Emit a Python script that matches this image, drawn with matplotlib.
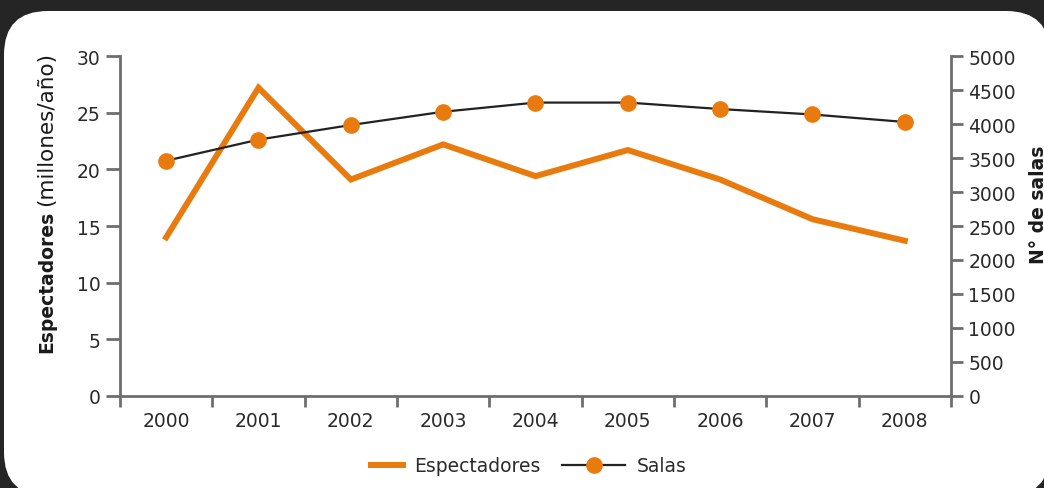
import matplotlib.pyplot as plt
from matplotlib.patches import FancyBboxPatch
from matplotlib.lines import Line2D
from matplotlib.legend_handler import HandlerLine2D

years = ['2000', '2001', '2002', '2003', '2004', '2005', '2006', '2007', '2008']
espectadores = [14.0, 27.2, 19.1, 22.2, 19.4, 21.7, 19.1, 15.6, 13.7]
salas = [3460, 3770, 3985, 4180, 4315, 4315, 4220, 4140, 4030]

orange = '#e97b0e'
grey = '#6e6e6e'
txt = '#2a2a2a'

plt.rcParams['font.family'] = ['DejaVu Sans']
plt.rcParams['font.size'] = 13.5

W, H = 1044, 489
fig = plt.figure(figsize=(W / 100, H / 100), dpi=100)
fig.patch.set_facecolor('#252525')

# white rounded panel behind everything
panel = FancyBboxPatch((4 / W, -8 / H), 1046 / W, 485 / H,
                       boxstyle='round,pad=0,rounding_size=0.042',
                       mutation_aspect=W / H, transform=fig.transFigure,
                       facecolor='white', edgecolor='none', zorder=-5)
fig.patches.append(panel)

ax1 = fig.add_axes([120 / W, 1 - 397 / H, (951 - 120) / W, 340 / H])
ax1.patch.set_visible(False)
ax2 = ax1.twinx()
ax2.patch.set_visible(False)

x = range(len(years))
ax1.plot(x, espectadores, color=orange, lw=4.3, solid_joinstyle='miter', zorder=3)
ax2.plot(x, salas, color='#222222', lw=1.6, marker='o', markersize=11,
         markerfacecolor=orange, markeredgecolor=orange, zorder=2)

ax1.set_xlim(-0.5, len(years) - 0.5)
ax1.set_ylim(0, 30)
ax2.set_ylim(0, 5000)
ax1.set_yticks(range(0, 31, 5))
ax2.set_yticks(range(0, 5001, 500))

ax1.set_xticks(list(x))
ax1.set_xticklabels(years)
ax1.set_xticks([i - 0.5 for i in range(len(years) + 1)], minor=True)
ax1.tick_params(axis='x', which='major', length=0, pad=11, colors=txt)
ax1.tick_params(axis='x', which='minor', length=8, width=2, color=grey)
ax1.tick_params(axis='y', length=10, width=2, color=grey, pad=4, labelcolor=txt)
ax2.tick_params(axis='y', length=8.5, width=2, color=grey, pad=4, labelcolor=txt)

for a in (ax1, ax2):
    a.spines['top'].set_visible(False)
    for s in ('left', 'right', 'bottom'):
        a.spines[s].set_color(grey)
        a.spines[s].set_linewidth(2)
ax1.spines['right'].set_visible(False)
ax2.spines['left'].set_visible(False)
ax2.spines['bottom'].set_visible(False)

# axis titles: bold word followed by regular unit on the same baseline
base_x = 52 / W
t1 = fig.text(base_x, 1 - 353 / H, 'Espectadores', fontweight='bold', rotation=90,
              rotation_mode='anchor', ha='left', va='baseline', color='#1a1a1a')
fig.canvas.draw()
bb = t1.get_window_extent(fig.canvas.get_renderer())
fig.text(base_x, (bb.y1 + 5) / H, '(millones/año)', rotation=90, fontsize=15.5,
         rotation_mode='anchor', ha='left', va='baseline', color='#1a1a1a')
fig.text(1039 / W, 1 - 205 / H, 'N° de salas', fontweight='bold', rotation=90,
         ha='center', va='center', color='#1a1a1a')


class ShortLine(HandlerLine2D):
    # shorter handle, kept next to its label
    def create_artists(self, legend, orig_handle, xdescent, ydescent, width, height, fontsize, trans):
        w = width * 0.5
        return super().create_artists(legend, orig_handle, xdescent - (width - w), ydescent,
                                      w, height, fontsize, trans)


h_esp = Line2D([], [], color=orange, lw=4.3)
h_sal = Line2D([], [], color='#222222', lw=1.6, marker='o', markersize=11,
               markerfacecolor=orange, markeredgecolor=orange)
fig.legend([h_esp, h_sal], ['Espectadores', 'Salas'], loc='center',
           bbox_to_anchor=(513 / W, 1 - 467 / H), ncol=2, frameon=False,
           handlelength=3.36, columnspacing=1.15, handletextpad=0.6, labelcolor=txt,
           handler_map={h_esp: ShortLine()})

fig.savefig('out.png', dpi=100, facecolor=fig.get_facecolor())
